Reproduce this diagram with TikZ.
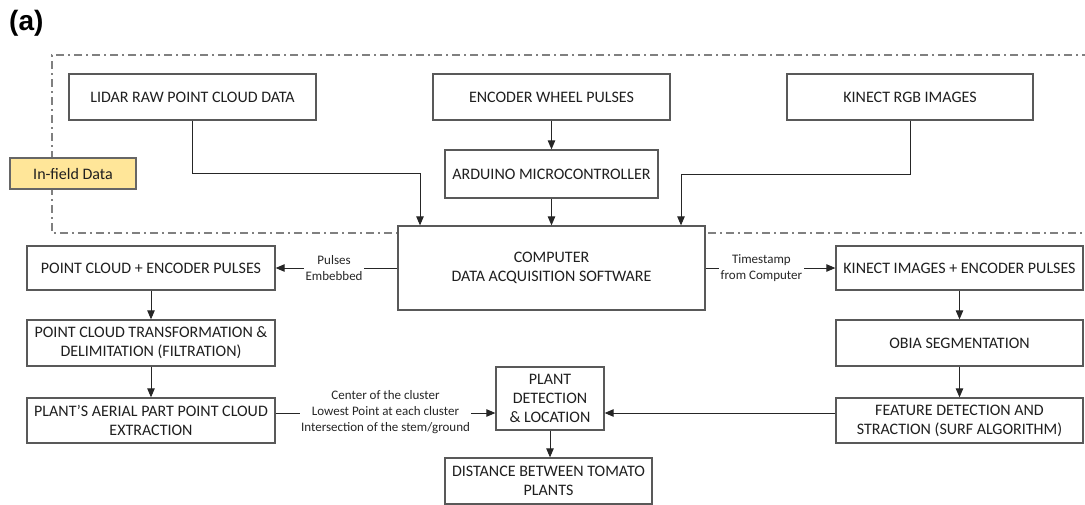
\documentclass[tikz,border=0pt]{standalone}
\usepackage{fontspec}
\setmainfont{Carlito}
\newfontfamily\labfont{Liberation Sans}
\usetikzlibrary{arrows.meta}
\definecolor{boxline}{HTML}{595959}
\definecolor{dashline}{HTML}{808080}
\definecolor{infill}{HTML}{FFE699}
\tikzset{
  box/.style={draw=boxline, line width=1.3pt, fill=white, align=center, inner sep=1pt,
    font=\fontsize{16}{19}\selectfont, text=black!88},
  lab/.style={fill=white, align=center, inner sep=1.5pt, font=\fontsize{13}{16}\selectfont, text=black!85},
  conn/.style={draw=black!85, line width=0.9pt},
  arr/.style={conn, -{Triangle[length=9pt,width=7.5pt]}},
}
\begin{document}
\begin{tikzpicture}[x=1pt,y=-1pt]
\useasboundingbox (0,0) rectangle (1085,504);
% outline of in-field area
\draw[dashline, line width=1.2pt, dash pattern=on 8pt off 4pt on 2pt off 4pt]
  (1090,55) -- (52,55) -- (52,233) -- (1090,233);
\node[anchor=west, inner sep=0pt, font=\labfont\bfseries\fontsize{28}{30}\selectfont] (alab) at (9,23) {(a)};
\node[box, minimum width=247pt, minimum height=46pt] (lidar) at (192.5,97) {LIDAR RAW POINT CLOUD DATA};
\node[box, minimum width=237pt, minimum height=46pt] (enc) at (551.5,97) {ENCODER WHEEL PULSES};
\node[box, minimum width=246pt, minimum height=46pt] (kin) at (910,97) {KINECT RGB IMAGES};
\node[box, minimum width=213pt, minimum height=48pt] (ard) at (551.5,174) {ARDUINO MICROCONTROLLER};
\node[box, fill=infill, draw=black!60, minimum width=126pt, minimum height=31pt] (infield) at (73,173.5) {In-field Data};
\node[box, minimum width=307pt, minimum height=84pt] (comp) at (551.5,268) {COMPUTER\\DATA ACQUISITION SOFTWARE};
\node[box, minimum width=248pt, minimum height=44pt] (pce) at (151,268) {POINT CLOUD + ENCODER PULSES};
\node[box, minimum width=247pt, minimum height=44pt] (kie) at (959.5,268) {KINECT IMAGES + ENCODER PULSES};
\node[box, minimum width=248pt, minimum height=46pt] (pct) at (151,343) {POINT CLOUD TRANSFORMATION \&\\DELIMITATION (FILTRATION)};
\node[box, minimum width=247pt, minimum height=46pt] (obia) at (959.5,343) {OBIA SEGMENTATION};
\node[box, minimum width=248pt, minimum height=45pt] (aer) at (151,420.5) {PLANT'S AERIAL PART POINT CLOUD\\EXTRACTION};
\node[box, minimum width=108pt, minimum height=63pt] (det) at (550,398.5) {PLANT\\DETECTION\\\& LOCATION};
\node[box, minimum width=247pt, minimum height=45pt] (feat) at (959.5,420.5) {FEATURE DETECTION AND\\STRACTION (SURF ALGORITHM)};
\node[box, minimum width=207pt, minimum height=46pt] (dist) at (548.5,481) {DISTANCE BETWEEN TOMATO\\PLANTS};
% inputs to the computer
\coordinate (lidarbend) at (192,173);
\coordinate (kinbend) at (910,174);
\draw[arr] (lidar.south -| lidarbend) -- (lidarbend) -- (lidarbend -| 420,0) -- (comp.north -| 420,0);
\draw[arr] (enc.south) -- (ard.north);
\draw[arr] (ard.south) -- (comp.north -| ard.south);
\draw[arr] (kin.south -| kinbend) -- (kinbend) -- (kinbend -| 681,0) -- (comp.north -| 681,0);
% computer outputs
\draw[arr] (comp.west) -- node[lab, pos=0.52] (pl) {Pulses\\Embebbed} (pce.east);
\draw[arr] (comp.east) -- node[lab, pos=0.43] (tl) {Timestamp\\from Computer} (kie.west);
% columns
\draw[arr] (pce.south) -- (pct.north);
\draw[arr] (pct.south) -- (aer.north);
\draw[arr] (kie.south) -- (obia.north);
\draw[arr] (obia.south) -- (feat.north);
% to plant detection
\draw[arr] (aer.east |- 0,413) -- node[lab, pos=0.5, yshift=1pt] (cl) {Center of the cluster\\Lowest Point at each cluster\\Intersection of the stem/ground} (det.west |- 0,413);
\draw[arr] (feat.west |- 0,413) -- (det.east |- 0,413);
\draw[arr] (det.south) -- (dist.north -| det.south);
\end{tikzpicture}
\end{document}
